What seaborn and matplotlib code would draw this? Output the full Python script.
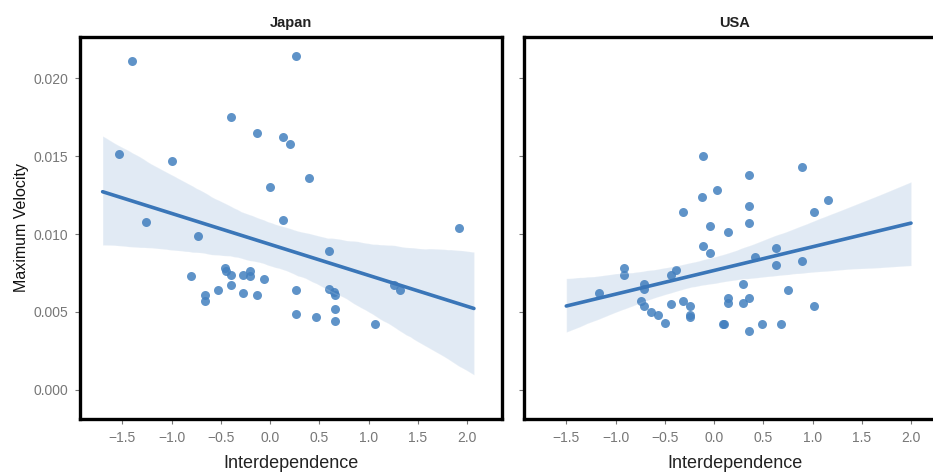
import numpy as np
import pandas as pd
import matplotlib
matplotlib.use("Agg")
import matplotlib.pyplot as plt
import seaborn as sns

# ---- data ----
japan_x = [-1.40, 0.26, -0.40, -0.13, 0.13, 0.20, -1.53, -1.00, 0.00, 0.13,
           -1.26, 0.40, 1.92, -0.73, -0.80, -0.46, -0.45, -0.40, -0.27, -0.20,
           -0.20, -0.06, -0.66, -0.66, -0.53, -0.40, -0.27, -0.13, 0.26, 0.26,
           0.60, 0.60, 0.65, 0.66, 0.66, 0.66, 0.47, 1.07, 1.26, 1.32]
japan_y = [0.0211, 0.0214, 0.0175, 0.0165, 0.0162, 0.0158, 0.0151, 0.0147, 0.0130, 0.0109,
           0.0108, 0.0136, 0.0104, 0.0099, 0.0073, 0.0078, 0.0076, 0.0074, 0.0074, 0.0076,
           0.0073, 0.0071, 0.0061, 0.0057, 0.0064, 0.0067, 0.0062, 0.0061, 0.0064, 0.0049,
           0.0089, 0.0065, 0.0063, 0.0061, 0.0052, 0.0044, 0.0047, 0.0042, 0.0067, 0.0064]

usa_x = [-0.11, 0.03, -0.12, -0.31, -0.04, 0.14, -0.11, -0.04, -0.91, -0.91,
         -0.39, -0.44, -0.71, -0.71, -1.17, -0.74, -0.71, -0.64, -0.57, -0.50,
         -0.44, -0.31, -0.24, -0.24, -0.24, 0.14, 0.14, 0.09, 0.36, 0.89,
         0.36, 1.16, 1.02, 0.36, 0.63, 0.42, 0.63, 0.89, 0.29, 0.75,
         0.29, 0.36, 1.02, 0.10, 0.36, 0.49, 0.68]
usa_y = [0.0150, 0.0128, 0.0124, 0.0114, 0.0105, 0.0101, 0.0092, 0.0088, 0.0078, 0.0074,
         0.0077, 0.0074, 0.0068, 0.0065, 0.0062, 0.0057, 0.0054, 0.0050, 0.0048, 0.0043,
         0.0055, 0.0057, 0.0054, 0.0048, 0.0047, 0.0059, 0.0056, 0.0042, 0.0138, 0.0143,
         0.0118, 0.0122, 0.0114, 0.0107, 0.0091, 0.0085, 0.0080, 0.0083, 0.0068, 0.0064,
         0.0056, 0.0059, 0.0054, 0.0042, 0.0038, 0.0042, 0.0042]

countries = ["Japan", "USA"]
fit_ranges = {"Japan": (-1.70, 2.07), "USA": (-1.50, 2.00)}
x_ticks = [-1.5, -1.0, -0.5, 0.0, 0.5, 1.0, 1.5, 2.0]
y_ticks = [0.000, 0.005, 0.010, 0.015, 0.020]

df = pd.concat([
    pd.DataFrame({"Interdependence": japan_x, "Maximum Velocity": japan_y, "Country": "Japan"}),
    pd.DataFrame({"Interdependence": usa_x, "Maximum Velocity": usa_y, "Country": "USA"}),
], ignore_index=True)

sns.set_style("ticks")
plt.rcParams["font.family"] = ["Liberation Sans", "DejaVu Sans"]

fig, axes = plt.subplots(1, 2, figsize=(9.33, 4.72), dpi=100, sharex=True, sharey=True)
fig.subplots_adjust(left=0.0857, right=1.0139, bottom=0.1123, top=0.9216, wspace=0.052)

color = "#3a76b8"
for ax, c in zip(axes, countries):
    sub = df[df["Country"] == c]
    ax.set_xlim(*fit_ranges[c])
    sns.regplot(data=sub, x="Interdependence", y="Maximum Velocity", ax=ax,
                truncate=False, color=color, ci=95, n_boot=1000, seed=3,
                scatter_kws={"s": 42, "alpha": 0.85, "linewidths": 0, "color": "#4380bf"},
                line_kws={"linewidth": 2.6, "color": color})
    ax.set_title(c, fontsize=10.5, fontweight="bold", color="#222222", pad=7)
    for sp in ax.spines.values():
        sp.set_visible(True)
        sp.set_linewidth(2.4)
        sp.set_color("black")
    ax.tick_params(axis="both", labelsize=10, colors="#777777", length=3.5, width=0.8, pad=5)
    ax.set_xlabel("Interdependence", fontsize=13, color="#222222", labelpad=7)

axes[0].set_xlim(-1.93, 2.355)
axes[0].set_ylim(-0.00186, 0.02263)
axes[0].set_xticks(x_ticks)
axes[0].set_yticks(y_ticks)
axes[0].yaxis.set_major_formatter(matplotlib.ticker.FormatStrFormatter("%.3f"))
axes[0].set_ylabel("Maximum Velocity", fontsize=11.5, color="#111111", labelpad=3)
axes[1].set_ylabel("")

fig.savefig("out.png", dpi=100)
